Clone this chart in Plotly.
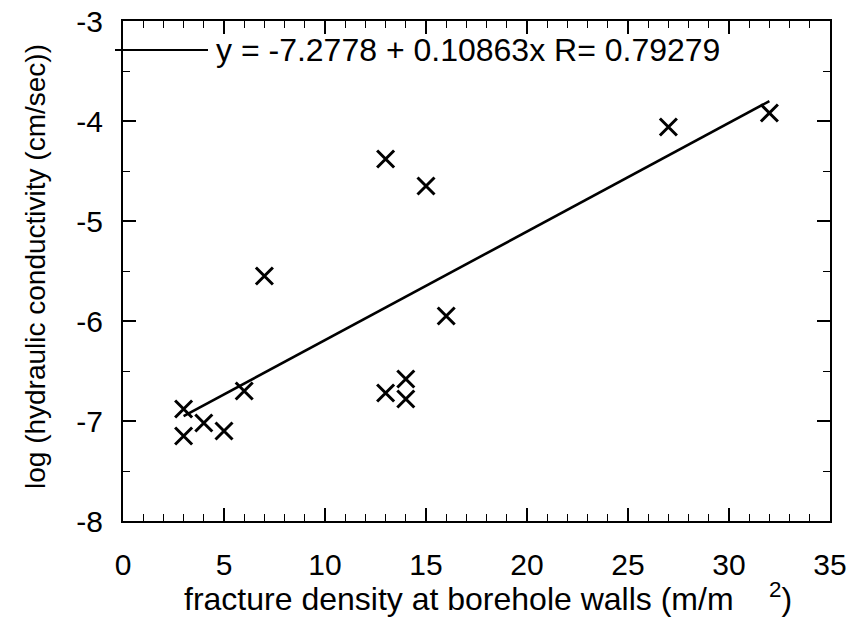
import plotly.graph_objects as go

# data
fracture_density = [3, 3, 4, 5, 6, 7, 13, 13, 14, 14, 15, 16, 27, 32]
log_conductivity = [-6.88, -7.15, -7.02, -7.10, -6.70, -5.55, -6.72, -4.38, -6.58, -6.78, -4.65, -5.95, -4.06, -3.92]

fit_intercept = -7.2778
fit_slope = 0.10863
fit_r = 0.79279
fit_x = [3, 32]
fit_y = [fit_intercept + fit_slope * x for x in fit_x]

x_ticks = [0, 5, 10, 15, 20, 25, 30, 35]
y_ticks = [-3, -4, -5, -6, -7, -8]
y_tick_text = ["-3", "-4", "-5", "-6", "-7", "-8"]

FONT = "Liberation Sans, Arial, Helvetica, sans-serif"

L, R, T, B = 123, 22, 21, 96
PW, PH = 852 - L - R, 617 - T - B

fig = go.Figure()
fig.add_trace(go.Scatter(
    x=fit_x, y=fit_y, mode="lines",
    line=dict(color="black", width=2.6),
    showlegend=False, hoverinfo="skip"))
fig.add_trace(go.Scatter(
    x=fracture_density, y=log_conductivity, mode="markers",
    marker=dict(symbol="x-thin", size=17, line=dict(color="black", width=3), color="black"),
    showlegend=False))

axis_common = dict(
    showline=True, linecolor="black", linewidth=2.2, mirror="allticks",
    ticks="inside", ticklen=13, tickwidth=1.6, tickcolor="black",
    showgrid=False, zeroline=False,
    tickfont=dict(family=FONT, size=30, color="black"),
)

fig.update_xaxes(
    range=[0, 35], tickvals=x_ticks, ticktext=[str(v) for v in x_ticks],
    minor=dict(dtick=1, ticks="inside", ticklen=7, tickwidth=1.3, tickcolor="black"),
    ticklabelstandoff=16,
    **axis_common)
fig.update_yaxes(
    range=[-8, -3], tickvals=y_ticks, ticktext=y_tick_text,
    minor=dict(dtick=0.5, ticks="inside", ticklen=7, tickwidth=1.3, tickcolor="black"),
    ticklabelstandoff=12,
    **axis_common)

fig.update_layout(
    width=852, height=617,
    margin=dict(l=L, r=R, t=T, b=B, autoexpand=False),
    paper_bgcolor="white", plot_bgcolor="white",
    font=dict(family=FONT, color="black"),
    annotations=[
        dict(text="fracture density at borehole walls (m/m&nbsp;&nbsp;&nbsp;&nbsp;<sup>2</sup>)",
             xref="paper", yref="paper", x=(488 - L) / PW, y=-0.108, xanchor="center", yanchor="top",
             showarrow=False, font=dict(family=FONT, size=32, color="black")),
        dict(text="log (hydraulic conductivity (cm/sec))",
             xref="paper", yref="paper", x=(35 - L) / PW, y=1 - (267 - T) / PH,
             xanchor="center", yanchor="middle",
             textangle=-90, showarrow=False, font=dict(family=FONT, size=28, color="black")),
        dict(text="y = -7.2778 + 0.10863x R= 0.79279",
             xref="paper", yref="paper", x=(214 - L) / PW, y=1 - (50 - T) / PH,
             xanchor="left", yanchor="middle", showarrow=False,
             font=dict(family=FONT, size=32, color="black")),
    ],
    shapes=[
        dict(type="line", xref="paper", yref="paper",
             x0=(115 - L) / PW, x1=(208 - L) / PW,
             y0=1 - (50 - T) / PH, y1=1 - (50 - T) / PH,
             line=dict(color="black", width=2)),
    ],
)

fig.write_html("out.html")
